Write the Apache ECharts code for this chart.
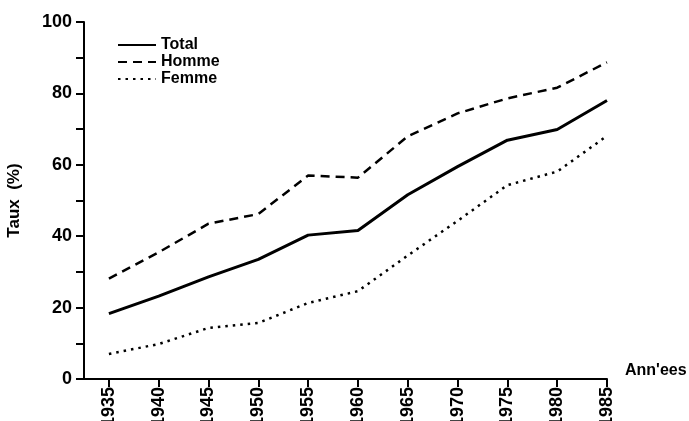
<!DOCTYPE html>
<html>
<head>
<meta charset="utf-8">
<script src="https://cdn.jsdelivr.net/npm/echarts@6/dist/echarts.min.js"></script>
<style>
  html, body { margin: 0; padding: 0; background: #fff; }
  #main { width: 689px; height: 421px; }
</style>
</head>
<body>
<div id="main"></div>
<script>
// years on the x axis
var years = [1935, 1940, 1945, 1950, 1955, 1960, 1965, 1970, 1975, 1980, 1985];
// taux (%)
var total = [18.3, 23.2, 28.6, 33.5, 40.3, 41.6, 51.6, 59.5, 66.9, 69.9, 78];
var homme = [28.1, 35.5, 43.5, 46.2, 57, 56.4, 68, 74.4, 78.6, 81.6, 88.7];
var femme = [7, 9.8, 14.3, 15.7, 21.3, 24.6, 34.6, 44.3, 54.3, 58.1, 68.1];
var yTicks = [0, 20, 40, 60, 80, 100];

function pairs(vals) {
  var out = [];
  for (var i = 0; i < years.length; i++) {
    out.push([years[i], vals[i]]);
  }
  return out;
}

var font = '"Liberation Sans", Arial, sans-serif';
var chartDom = document.getElementById("main");
var myChart = echarts.init(chartDom);
var option;

option = {
  animation: false,
  backgroundColor: "#fff",
  grid: { left: 84, right: 82, top: 22, bottom: 42, outerBoundsMode: "none" },
  legend: {
    orient: "vertical",
    left: 112,
    top: 32,
    itemWidth: 38,
    itemHeight: 12,
    itemGap: 1,
    itemStyle: { opacity: 0 },
    textStyle: { fontFamily: font, fontWeight: "bold", fontSize: 16, color: "#000" },
    data: ["Total", "Homme", "Femme"]
  },
  xAxis: {
    type: "value",
    min: 1932.5,
    max: 1985,
    name: "Ann'ees",
    nameLocation: "end",
    nameGap: 18,
    nameTextStyle: {
      fontFamily: font, fontWeight: "bold", fontSize: 16, color: "#000",
      align: "left", verticalAlign: "bottom"
    },
    splitLine: { show: false },
    axisLine: { lineStyle: { color: "#000", width: 2 } },
    axisTick: {
      inside: false, length: 8,
      lineStyle: { color: "#000", width: 2 },
      customValues: years
    },
    axisLabel: {
      customValues: years,
      rotate: 90,
      margin: 8,
      fontFamily: font,
      fontWeight: "bold",
      fontSize: 18,
      color: "#000",
      formatter: function (v) { return String(v); }
    }
  },
  yAxis: {
    type: "value",
    min: 0,
    max: 100,
    interval: 10,
    name: "Taux  (%)",
    nameLocation: "middle",
    nameRotate: 90,
    nameGap: 61,
    nameTextStyle: { fontFamily: font, fontWeight: "bold", fontSize: 17, color: "#000" },
    splitLine: { show: false },
    axisLine: { show: true, lineStyle: { color: "#000", width: 2 } },
    axisTick: { inside: false, length: 8, lineStyle: { color: "#000", width: 2 } },
    axisLabel: {
      margin: 12,
      fontFamily: font,
      fontWeight: "bold",
      fontSize: 18,
      color: "#000",
      formatter: function (v) { return yTicks.indexOf(v) >= 0 ? String(v) : ""; }
    }
  },
  series: [
    {
      name: "Total",
      type: "line",
      data: pairs(total),
      symbol: "none",
      color: "#000",
      lineStyle: { color: "#000", width: 3, type: "solid" }
    },
    {
      name: "Homme",
      type: "line",
      data: pairs(homme),
      symbol: "none",
      color: "#000",
      lineStyle: { color: "#000", width: 2.5, type: [9, 6] }
    },
    {
      name: "Femme",
      type: "line",
      data: pairs(femme),
      symbol: "none",
      color: "#000",
      lineStyle: { color: "#000", width: 2.5, type: [2.5, 5] }
    }
  ]
};
option && myChart.setOption(option);
</script>
</body>
</html>
